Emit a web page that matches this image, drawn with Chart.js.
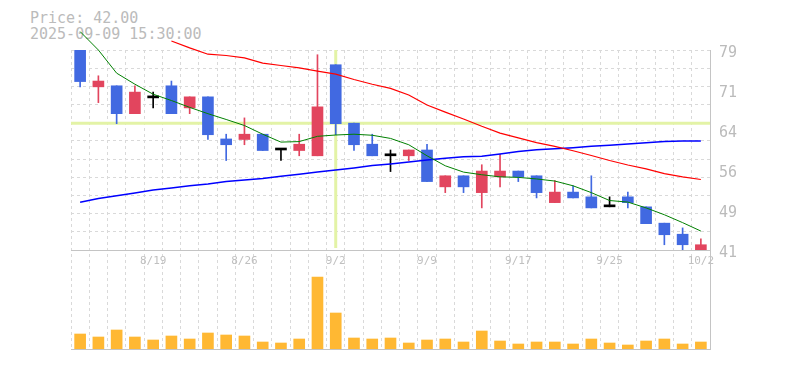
<!DOCTYPE html>
<html><head><meta charset="utf-8">
<script src="https://cdn.jsdelivr.net/npm/chart.js@4.4.1/dist/chart.umd.min.js"></script>
<style>
html,body{margin:0;padding:0;background:#fff;}
#wrap{position:relative;width:785px;height:370px;overflow:hidden;}
#hdr{position:absolute;left:30px;top:10px;font:15px/16px 'DejaVu Sans Mono',monospace;color:#bbbbbb;white-space:pre;}
canvas{position:absolute;left:0;top:0;}
</style></head><body>
<div id="wrap"><div id="hdr">Price: 42.00
2025-09-09 15:30:00</div><canvas id="c" width="785" height="370"></canvas></div>
<script>
// ---- data ----
const dates = ['8/13','8/14','8/15','8/18','8/19','8/20','8/21','8/22','8/25','8/26','8/27','8/28','8/29','9/1','9/2','9/3','9/4','9/5','9/8','9/9','9/10','9/11','9/12','9/16','9/17','9/18','9/19','9/22','9/24','9/25','9/26','9/29','9/30','10/1','10/2'];
const xTickLabels = ['8/19','8/26','9/2','9/9','9/17','9/25','10/2'];
const opens  = [79.0,72.0,72.2,66.9,69.9,72.2,68.0,70.1,62.1,62.0,63.0,60.0,59.9,58.9,76.2,65.1,61.1,58.9,58.9,60.0,53.0,55.1,51.9,54.9,56.0,55.1,50.0,52.0,51.1,49.2,51.1,49.2,46.1,44.0,40.9];
const highs  = [79.0,74.1,72.2,72.2,71.0,73.1,70.1,70.1,63.0,66.1,63.0,60.0,63.0,78.1,76.2,65.1,63.0,60.0,60.0,61.1,55.1,55.1,57.2,59.2,56.0,55.1,54.2,53.2,55.1,51.1,52.0,49.2,46.1,45.2,43.1];
const lows   = [72.0,69.0,65.0,66.9,68.0,66.9,66.9,62.0,58.0,61.0,59.9,58.0,58.9,58.9,62.9,59.9,58.9,55.9,58.0,54.0,51.9,51.9,49.0,53.0,54.0,50.9,50.0,50.9,49.0,49.2,49.0,46.0,42.0,40.9,40.9];
const closes = [73.0,73.1,66.9,71.0,69.9,66.9,70.1,62.9,61.0,63.0,59.9,60.0,61.1,68.2,65.0,61.0,58.9,58.9,60.0,54.0,55.1,53.0,56.0,56.0,54.9,51.9,52.0,50.9,49.0,49.2,50.0,46.0,43.9,42.0,42.0];
const volumes = [15,12,19,12,9,13,10,16,14,13,7,6,10,72,36,11,10,11,6,9,10,7,18,8,5,7,7,5,10,6,4,8,10,5,7];
const maShort = [82.5,79.0,74.6,72.5,70.6,69.4,68.1,66.9,65.8,64.65,63.0,61.5,61.6,62.6,62.85,63.0,62.8,62.2,61.0,58.9,57.0,55.8,55.3,54.9,54.8,54.5,54.1,53.2,51.9,50.4,50.1,49.0,47.7,46.2,44.6];
const maMid = [null,null,null,null,null,80.7,79.4,78.2,77.95,77.5,76.5,76.05,75.6,75.0,74.4,73.4,72.5,71.7,70.45,68.55,67.2,65.9,64.5,63.2,62.3,61.4,60.7,59.85,58.95,58.0,57.15,56.4,55.5,54.9,54.4];
const maLong = [50.08,50.77,51.3,51.83,52.4,52.8,53.2,53.55,54.0,54.3,54.6,55.0,55.4,55.8,56.2,56.6,57.05,57.35,57.7,58.1,58.45,58.7,58.8,59.25,59.7,60.05,60.25,60.45,60.7,60.9,61.15,61.4,61.6,61.7,61.7];
const yTickValues = [41,48.6,56.2,63.8,71.4,79];
const yTickLabels = ['41','49','56','64','71','79'];
const crossIndex = 14;
const crossValue = 65.07;

// ---- styling ----
const UP = '#e2455e', DOWN = '#4169e1', FLAT = '#000000';
const candleColors = opens.map((o,i)=> closes[i]>o ? UP : (closes[i]<o ? DOWN : FLAT));
const yMin = 41, yMax = 79, gridDivs = 11;
const gridVals = [];
for (let k=0;k<=gridDivs;k++) gridVals.push(yMin + (yMax-yMin)*k/gridDivs);
const near = (a,b)=>Math.abs(a-b)<1e-6;
const isGrid = v => gridVals.some(g=>near(g,v));

const crosshair = {
  id:'crosshair',
  beforeDatasetsDraw(chart){
    const {ctx, chartArea, scales} = chart;
    const x = scales.x.getPixelForValue(crossIndex);
    const y = scales.y.getPixelForValue(crossValue);
    ctx.save();
    ctx.strokeStyle = '#e3f3a6';
    ctx.lineWidth = 3;
    ctx.beginPath();
    ctx.moveTo(chartArea.left, y); ctx.lineTo(chartArea.right, y);
    ctx.moveTo(x, scales.y.top); ctx.lineTo(x, scales.y.bottom - 2);
    ctx.stroke();
    ctx.restore();
  }
};

Chart.defaults.font.family = "'DejaVu Sans Mono', monospace";
const GRID = '#d9d9d9', AXIS = '#c4c4c4';

new Chart(document.getElementById('c'), {
  type: 'bar',
  data: {
    labels: dates,
    datasets: [
      { type:'line', data: maShort, borderColor:'#008000', borderWidth:1, pointRadius:0, tension:0, clip:false, yAxisID:'y', xAxisID:'x', order:1 },
      { type:'line', data: maMid, borderColor:'#ff0000', borderWidth:1.2, pointRadius:0, tension:0, clip:false, yAxisID:'y', xAxisID:'x', order:1 },
      { type:'line', data: maLong, borderColor:'#0000ff', borderWidth:1.5, pointRadius:0, tension:0, clip:false, yAxisID:'y', xAxisID:'x', order:1 },
      { data: opens.map((o,i)=>[o, closes[i]]), backgroundColor: candleColors, barThickness:11, minBarLength:2, grouped:false, yAxisID:'y', xAxisID:'x', order:2 },
      { data: lows.map((l,i)=>[l, highs[i]]), backgroundColor: candleColors, barThickness:1, grouped:false, yAxisID:'y', xAxisID:'x', order:3 },
      { data: volumes, backgroundColor:'#ffb833', barThickness:11, grouped:false, yAxisID:'yv', xAxisID:'x', order:2 }
    ]
  },
  options: {
    responsive:false, animation:false,
    layout:{ padding:{ left:71, top:50, right:0, bottom:21 } },
    plugins:{ legend:{display:false}, tooltip:{enabled:false}, title:{display:false} },
    scales:{
      x:{
        type:'category', position:{ y: 41 }, offset:true,
        grid:{ offset:true, color:GRID, lineWidth:1, drawTicks:false },
        border:{ display:true, color:AXIS, width:1, dash:[3,3] },
        ticks:{ autoSkip:false, maxRotation:0, padding:5, color:'#c0c0c0', font:{ size:11 },
          callback:function(v,i){ const d = dates[i]; return xTickLabels.includes(d) ? d : ''; } }
      },
      xb:{
        type:'category', position:'bottom', offset:true,
        grid:{ display:false, drawTicks:false },
        border:{ display:true, color:AXIS, width:1 },
        ticks:{ display:false },
        afterFit:s=>{ s.height = 0; }
      },
      y:{
        type:'linear', position:'right', stack:'main', stackWeight:200,
        min:yMin, max:yMax,
        afterBuildTicks:s=>{
          const vals = gridVals.concat(yTickValues.filter(v=>!isGrid(v)));
          vals.sort((a,b)=>a-b);
          s.ticks = vals.map(v=>({value:v}));
        },
        afterFit:s=>{ s.width = 75; },
        grid:{ drawTicks:false, color:ctx=> (ctx.tick && isGrid(ctx.tick.value)) ? GRID : 'rgba(0,0,0,0)' },
        border:{ display:true, color:AXIS, width:1, dash:[3,3] },
        ticks:{ autoSkip:false, padding:9, labelOffset:3, color:'#bbbbbb', font:{ size:15 },
          callback:function(v){ const j = yTickValues.findIndex(t=>near(t,v)); return j>=0 ? yTickLabels[j] : ''; } }
      },
      yv:{
        type:'linear', position:'right', stack:'main', stackWeight:99,
        min:0, max:99,
        afterFit:s=>{ s.width = 75; },
        grid:{ display:false, drawTicks:false },
        border:{ display:true, color:AXIS, width:1 },
        ticks:{ display:false }
      }
    }
  },
  plugins:[crosshair]
});
</script>
</body></html>
